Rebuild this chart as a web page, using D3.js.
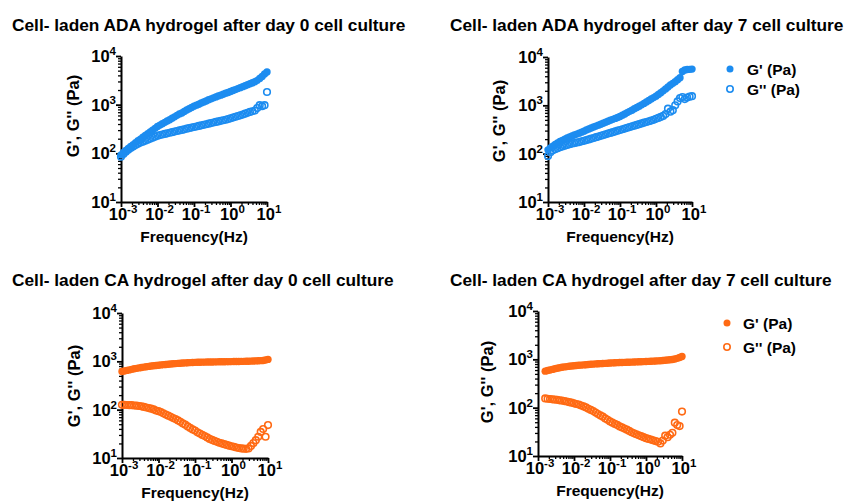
<!DOCTYPE html>
<html><head><meta charset="utf-8">
<script src="https://cdn.jsdelivr.net/npm/d3@7"></script>
<style>
html,body{margin:0;padding:0;background:#fff;}
text{font-family:"Liberation Sans",Arial,sans-serif;font-weight:bold;fill:#000;}
</style></head>
<body>
<svg id="c" width="846" height="502"></svg>
<script>
// Frequency (Hz)
const freq = [0.001,0.001166,0.001359,0.001585,0.001848,0.002154,0.002512,0.002929,0.003415,0.003981,0.004642,0.005412,0.00631,0.007356,0.008577,
0.01,0.01166,0.01359,0.01585,0.01848,0.02154,0.02512,0.02929,0.03415,0.03981,0.04642,0.05412,0.0631,0.07356,0.08577,
0.1,0.1166,0.1359,0.1585,0.1848,0.2154,0.2512,0.2929,0.3415,0.3981,0.4642,0.5412,0.631,0.7356,0.8577,
1,1.166,1.359,1.585,1.848,2.154,2.512,2.929,3.415,3.981,4.642,5.412,6.31,7.356,8.577,10];

const titles = ["Cell- laden ADA hydrogel after day 0 cell culture","Cell- laden ADA hydrogel after day 7 cell culture",
"Cell- laden CA hydrogel after day 0 cell culture","Cell- laden CA hydrogel after day 7 cell culture"];
const seriesNames = ["G' (Pa)", "G'' (Pa)"];
const xTicks = [1e-3,1e-2,1e-1,1,10];
const xTickExp = ["-3","-2","-1","0","1"];
const yTicks = [10,100,1000,10000];
const yTickExp = ["1","2","3","4"];

// ADA day 0
const adaD0G1 = [93,104,115,126,138,151,166,181,196,214,233,253,275,300,326,355,380,406,433,461,490,525,562,603,646,676,724,776,822,877,933,977,1023,1084,1135,1189,1259,1318,1380,1445,1514,1567,1641,1718,1778,1862,1950,2042,2138,2239,2344,2455,2570,2692,2818,2951,3162,3467,3802,4266,4677];
const adaD0G2 = [85,97,108,119,129,138,148,157,166,174,182,191,200,209,219,229,237,244,251,258,265,272,280,288,295,303,312,321,330,339,348,356,366,376,386,396,407,418,430,441,453,465,478,490,505,525,543,562,582,603,627,653,681,708,733,759,851,977,933,977,1820];
// ADA day 7
const adaD7G1 = [120,132,143,155,166,178,188,200,211,221,232,243,254,266,279,292,309,324,339,355,372,389,407,427,447,468,490,513,537,562,589,624,661,708,750,794,851,902,955,1023,1096,1175,1259,1349,1445,1549,1679,1820,1995,2188,2399,2630,2851,3090,3388,3715,5012,5370,5495,5559,5623];
const adaD7G2 = [89,107,117,124,130,136,141,146,151,157,162,166,170,174,180,184,191,197,204,211,219,226,234,243,251,260,269,279,288,299,309,320,331,343,355,367,380,394,407,422,437,452,468,484,501,525,550,575,603,661,851,741,794,1000,1202,1413,1479,1349,1445,1514,1549];
// CA day 0
const caD0G1 = [617,631,649,665,682,700,716,731,745,759,773,785,798,811,822,832,843,853,863,873,881,889,898,906,914,923,929,935,942,948,953,957,959,962,964,966,968,971,973,975,977,979,982,984,986,988,991,993,995,998,1000,1002,1007,1012,1016,1021,1026,1033,1042,1062,1096];
const caD0G2 = [126,126,125,124,124,122,121,119,117,114,111,108,105,101,96,93,89,84,79,75,71,67,64,60,56,52,49,45,42,39,37,34,32,30,28.4,26.6,24.8,23.7,22.6,21.6,20.7,20.0,19.3,18.6,18.0,17.5,17.0,16.5,16.1,15.8,15.6,15.5,15.8,17.8,20.4,23.4,27.5,34.7,39.8,27.5,47.9];
// CA day 7 (first three frequencies not measured)
const caD7G1 = [null,null,null,569,586,603,619,637,653,668,684,697,708,718,726,735,743,752,760,767,774,782,789,796,804,809,815,820,826,832,838,843,849,853,857,861,865,869,873,877,881,885,889,893,897,902,906,912,918,925,931,938,946,955,966,977,993,1016,1047,1089,1148];
const caD7G2 = [null,null,null,155,153,151,149,147,145,142,140,137,134,130,127,123,119,116,111,106,101,95,90,85,79,74,69,65,60,56,52,49,46,44,41,39,37,35,33,31,29.5,28.2,26.9,25.7,24.5,23.4,22.6,21.9,21.1,20.4,19.7,18.2,20.9,26.3,24.5,27.5,30.2,49,43.7,41.7,83];

const blue = "#1c8cf0", orange = "#ff6a14";

const panels = [
  {title:titles[0], tx:12, ty:30.5, x0:121, x1:267, y0:56, y1:202, g1:adaD0G1, g2:adaD0G2, color:blue, ylx:79, yly:116, legend:null},
  {title:titles[1], tx:450, ty:30.5, x0:548, x1:692, y0:57, y1:202, g1:adaD7G1, g2:adaD7G2, color:blue, ylx:505, yly:121, legend:{x:730, y:69, dy:20, tx:747}},
  {title:titles[2], tx:12, ty:286, x0:122, x1:268, y0:313, y1:458, g1:caD0G1, g2:caD0G2, color:orange, ylx:80, yly:386, legend:null},
  {title:titles[3], tx:450, ty:286, x0:538, x1:682, y0:311, y1:456, g1:caD7G1, g2:caD7G2, color:orange, ylx:493, yly:382, legend:{x:727, y:323, dy:24, tx:743}}
];

const svg = d3.select("#c");

panels.forEach(p => {
  const g = svg.append("g");
  g.append("text").attr("x", p.tx).attr("y", p.ty).attr("font-size", 17.3).text(p.title);

  const x = d3.scaleLog().domain([1e-3, 10]).range([p.x0, p.x1]);
  const y = d3.scaleLog().domain([10, 1e4]).range([p.y1, p.y0]);

  const xMinor = x.ticks().filter(v => !xTicks.some(t => Math.abs(t - v) / t < 1e-6));
  const yMinor = y.ticks().filter(v => !yTicks.some(t => Math.abs(t - v) / t < 1e-6));

  // minor ticks
  g.append("g").attr("transform", `translate(0,${p.y1})`)
    .call(d3.axisBottom(x).tickValues(xMinor).tickSize(3).tickFormat(""))
    .call(s => s.select(".domain").remove())
    .call(s => s.selectAll("line").attr("stroke", "#000").attr("stroke-width", 1.3));
  g.append("g").attr("transform", `translate(${p.x0},0)`)
    .call(d3.axisLeft(y).tickValues(yMinor).tickSize(3).tickFormat(""))
    .call(s => s.select(".domain").remove())
    .call(s => s.selectAll("line").attr("stroke", "#000").attr("stroke-width", 1.3));
  // major ticks + domain
  g.append("g").attr("transform", `translate(0,${p.y1})`)
    .call(d3.axisBottom(x).tickValues(xTicks).tickSize(5).tickSizeOuter(0).tickFormat(""))
    .call(s => s.select(".domain").attr("stroke", "#000").attr("stroke-width", 2))
    .call(s => s.selectAll("line").attr("stroke", "#000").attr("stroke-width", 1.8));
  g.append("g").attr("transform", `translate(${p.x0},0)`)
    .call(d3.axisLeft(y).tickValues(yTicks).tickSize(5).tickSizeOuter(0).tickFormat(""))
    .call(s => s.select(".domain").attr("stroke", "#000").attr("stroke-width", 2))
    .call(s => s.selectAll("line").attr("stroke", "#000").attr("stroke-width", 1.8));

  // tick labels
  xTicks.forEach((v, i) => {
    const t = g.append("text").attr("x", x(v) + 2).attr("y", p.y1 + 18).attr("text-anchor", "middle").attr("font-size", 16.5);
    t.append("tspan").text("10");
    t.append("tspan").attr("dy", -7).attr("font-size", 11.5).text(xTickExp[i]);
  });
  yTicks.forEach((v, i) => {
    const t = g.append("text").attr("x", p.x0 - 5).attr("y", y(v) + 6).attr("text-anchor", "end").attr("font-size", 16.5);
    t.append("tspan").text("10");
    t.append("tspan").attr("dy", -7).attr("font-size", 11.5).text(yTickExp[i]);
  });

  // axis titles
  g.append("text").attr("x", (p.x0 + p.x1) / 2).attr("y", p.y1 + 40).attr("text-anchor", "middle").attr("font-size", 15.5).text("Frequency(Hz)");
  g.append("text").attr("transform", `translate(${p.ylx},${p.yly}) rotate(-90)`).attr("text-anchor", "middle").attr("font-size", 16.5).text("G', G'' (Pa)");

  // data
  const d1 = freq.map((f, i) => ({f, v: p.g1[i]})).filter(d => d.v != null);
  const d2 = freq.map((f, i) => ({f, v: p.g2[i]})).filter(d => d.v != null);
  g.append("g").selectAll("circle").data(d2).join("circle")
    .attr("cx", d => x(d.f)).attr("cy", d => y(d.v)).attr("r", 3.3)
    .attr("fill", "none").attr("stroke", p.color).attr("stroke-width", 1.6);
  g.append("g").selectAll("circle").data(d1).join("circle")
    .attr("cx", d => x(d.f)).attr("cy", d => y(d.v)).attr("r", 3.7)
    .attr("fill", p.color);

  if (p.legend) {
    const L = p.legend;
    g.append("circle").attr("cx", L.x).attr("cy", L.y).attr("r", 3.5).attr("fill", p.color);
    g.append("circle").attr("cx", L.x).attr("cy", L.y + L.dy).attr("r", 3.2).attr("fill", "none").attr("stroke", p.color).attr("stroke-width", 1.6);
    g.append("text").attr("x", L.tx).attr("y", L.y + 5.5).attr("font-size", 15.5).text(seriesNames[0]);
    g.append("text").attr("x", L.tx).attr("y", L.y + L.dy + 5.5).attr("font-size", 15.5).text(seriesNames[1]);
  }
});
</script>
</body></html>
